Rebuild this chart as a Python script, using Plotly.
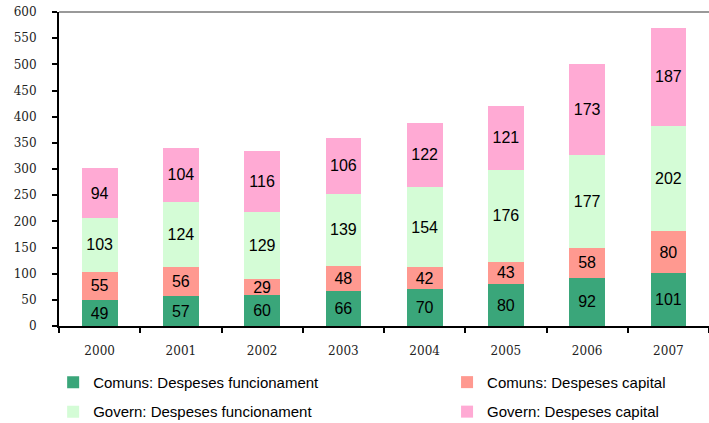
import plotly.graph_objects as go

years = ["2000", "2001", "2002", "2003", "2004", "2005", "2006", "2007"]

comuns_funcionament = [49, 57, 60, 66, 70, 80, 92, 101]
comuns_capital = [55, 56, 29, 48, 42, 43, 58, 80]
govern_funcionament = [103, 124, 129, 139, 154, 176, 177, 202]
govern_capital = [94, 104, 116, 106, 122, 121, 173, 187]

# (name, values, colour, legend column)
series = [
    ("Comuns: Despeses funcionament", comuns_funcionament, "#3aa67a", "legend"),
    ("Comuns: Despeses capital", comuns_capital, "#ff9990", "legend2"),
    ("Govern: Despeses funcionament", govern_funcionament, "#d4fcd6", "legend"),
    ("Govern: Despeses capital", govern_capital, "#ffaad4", "legend2"),
]

fig = go.Figure()
for name, vals, color, leg in series:
    fig.add_trace(go.Bar(
        name=name,
        x=years,
        y=vals,
        legend=leg,
        legendgroup=name,
        marker=dict(color=color, line=dict(width=0)),
        text=vals,
        texttemplate="%{y}",
        textposition="inside",
        insidetextanchor="middle",
        textangle=0,
        constraintext="none",
        textfont=dict(family="Liberation Sans", size=16, color="black"),
    ))

# gray line across the top of the plot area (paper ref so it is not clipped)
fig.add_shape(type="line", xref="paper", yref="paper", x0=0, x1=1, y0=1, y1=1,
              line=dict(color="#999999", width=2))

legend_font = dict(family="Liberation Sans", size=15, color="black")
tick_font = dict(family="DejaVu Serif", size=12, color="#222")

fig.update_layout(
    barmode="stack",
    bargap=0.56,
    width=709,
    height=423,
    margin=dict(l=59, r=0, t=12, b=97, autoexpand=False),
    paper_bgcolor="white",
    plot_bgcolor="white",
    showlegend=True,
    legend=dict(x=-0.009, xanchor="left", y=-0.127, yanchor="top",
                font=legend_font, tracegroupgap=7, bgcolor="rgba(0,0,0,0)"),
    legend2=dict(x=0.597, xanchor="left", y=-0.127, yanchor="top",
                 font=legend_font, tracegroupgap=7, bgcolor="rgba(0,0,0,0)"),
    xaxis=dict(
        type="category",
        showline=True,
        linecolor="black",
        linewidth=2,
        ticks="outside",
        tickson="boundaries",
        ticklen=5,
        tickwidth=2,
        tickcolor="black",
        showgrid=False,
        ticklabelstandoff=13,
        tickfont=tick_font,
    ),
    yaxis=dict(
        range=[0, 600],
        dtick=50,
        showline=True,
        linecolor="black",
        linewidth=2,
        ticks="outside",
        ticklen=5,
        tickwidth=2,
        tickcolor="black",
        showgrid=False,
        zeroline=False,
        ticklabelstandoff=13,
        tickfont=tick_font,
    ),
)

# the page body has an 8px default margin; drop it so the figure sits at 0,0
fig.write_html("out.html", config={"displayModeBar": False},
               post_script="document.body.style.margin='0';")
